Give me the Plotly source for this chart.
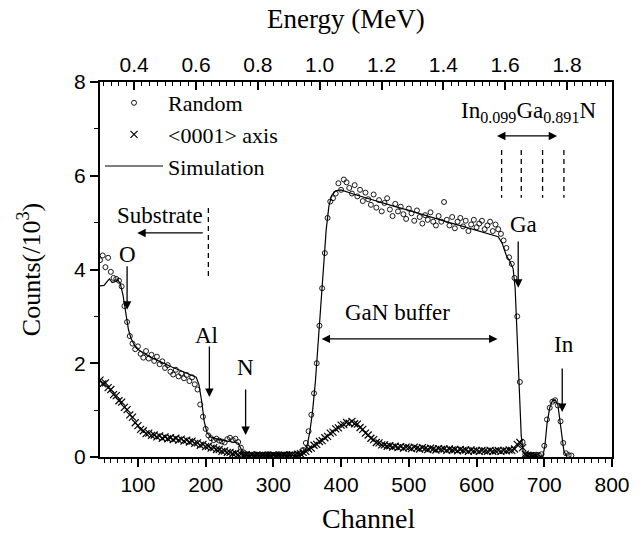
import plotly.graph_objects as go

# ---------------- data ----------------
random_channel = list(range(44, 741, 4))
random_counts = [
    4.20, 4.30, 4.05, 4.25, 3.95, 3.82, 3.80, 3.76, 3.64, 3.22,
    2.88, 2.58, 2.42, 2.30, 2.36, 2.20, 2.12, 2.26, 2.10, 2.18,
    2.05, 2.14, 1.98, 2.04, 1.90, 1.96, 1.82, 1.76, 1.86, 1.72,
    1.78, 1.68, 1.75, 1.62, 1.70, 1.55, 1.44, 1.12, 0.86, 0.60,
    0.46, 0.40, 0.36, 0.39, 0.35, 0.33, 0.31, 0.38, 0.41, 0.36,
    0.39, 0.32, 0.20, 0.10, 0.06, 0.05, 0.04, 0.06, 0.05, 0.04,
    0.05, 0.04, 0.06, 0.05, 0.04, 0.05, 0.06, 0.04, 0.05, 0.06,
    0.05, 0.04, 0.06, 0.05, 0.08, 0.15, 0.30, 0.55, 0.90, 1.36,
    2.00, 2.80, 3.60, 4.35, 5.10, 5.45, 5.52, 5.62, 5.84, 5.70,
    5.92, 5.86, 5.74, 5.62, 5.80, 5.56, 5.70, 5.46, 5.64, 5.50,
    5.38, 5.60, 5.32, 5.48, 5.24, 5.42, 5.52, 5.28, 5.14, 5.40,
    5.24, 5.34, 5.18, 5.08, 5.30, 5.20, 5.04, 5.26, 5.12, 4.98,
    5.16, 5.06, 5.22, 5.02, 4.94, 5.14, 5.02, 5.44, 5.06, 4.94,
    5.12, 4.88, 5.02, 5.10, 4.92, 5.04, 4.82, 4.96, 5.06, 4.90,
    4.98, 5.04, 4.86, 4.94, 5.02, 4.82, 4.96, 4.86, 4.76, 4.62,
    4.46, 4.26, 4.12, 3.82, 3.00, 1.60, 0.32, 0.06, 0.04, 0.05,
    0.04, 0.05, 0.04, 0.06, 0.24, 0.80, 1.05, 1.18, 1.21, 1.10,
    0.76, 0.30, 0.08, 0.04, 0.03,
]

aligned_channel = list(range(44, 689, 4))
aligned_counts = [
    1.64, 1.56, 1.58, 1.48, 1.44, 1.33, 1.31, 1.20, 1.17, 1.06,
    1.01, 0.90, 0.85, 0.73, 0.67, 0.59, 0.56, 0.50, 0.51, 0.46,
    0.47, 0.43, 0.45, 0.40, 0.43, 0.39, 0.41, 0.37, 0.40, 0.36,
    0.38, 0.34, 0.36, 0.32, 0.34, 0.29, 0.30, 0.25, 0.27, 0.22,
    0.23, 0.19, 0.20, 0.16, 0.16, 0.12, 0.13, 0.10, 0.10, 0.07,
    0.08, 0.05, 0.06, 0.04, 0.05, 0.03, 0.04, 0.03, 0.04, 0.03,
    0.04, 0.03, 0.04, 0.03, 0.04, 0.03, 0.04, 0.03, 0.04, 0.03,
    0.04, 0.05, 0.04, 0.06, 0.07, 0.10, 0.12, 0.17, 0.19, 0.25,
    0.27, 0.33, 0.35, 0.41, 0.44, 0.51, 0.53, 0.60, 0.62, 0.68,
    0.69, 0.74, 0.72, 0.76, 0.71, 0.70, 0.63, 0.59, 0.51, 0.47,
    0.40, 0.37, 0.31, 0.30, 0.26, 0.26, 0.23, 0.24, 0.21, 0.23,
    0.20, 0.22, 0.19, 0.21, 0.20, 0.18, 0.21, 0.19, 0.17, 0.20,
    0.18, 0.16, 0.19, 0.17, 0.15, 0.18, 0.16, 0.17, 0.14, 0.17,
    0.15, 0.16, 0.13, 0.16, 0.14, 0.15, 0.12, 0.15, 0.13, 0.14,
    0.12, 0.14, 0.13, 0.12, 0.14, 0.12, 0.13, 0.14, 0.12, 0.14,
    0.13, 0.15, 0.14, 0.17, 0.27, 0.31, 0.20, 0.06, 0.03, 0.03,
    0.02, 0.02,
]

sim_channel = [44, 50, 55, 58, 62, 66, 70, 74, 78, 82, 86, 90, 95, 100, 110,
               120, 130, 140, 150, 160, 170, 180, 186, 190, 194, 198, 202,
               208, 220, 235, 248, 252, 256, 262, 340, 346, 350, 354, 358,
               362, 366, 370, 374, 378, 382, 386, 392, 400, 420, 440, 460,
               480, 500, 520, 540, 560, 580, 600, 620, 632, 638, 644, 650,
               654, 657, 660, 663, 666, 669, 674, 698, 701, 704, 708, 712,
               716, 720, 723, 726, 729, 733]
sim_counts = [3.65, 3.66, 3.75, 3.80, 3.72, 3.74, 3.78, 3.70, 3.45, 3.05,
              2.72, 2.52, 2.38, 2.30, 2.20, 2.12, 2.05, 1.98, 1.92, 1.86,
              1.80, 1.75, 1.70, 1.55, 1.20, 0.75, 0.52, 0.42, 0.37, 0.33,
              0.30, 0.18, 0.06, 0.03, 0.03, 0.10, 0.25, 0.55, 1.00, 1.60,
              2.40, 3.30, 4.10, 4.85, 5.35, 5.58, 5.68, 5.70, 5.60, 5.51,
              5.43, 5.34, 5.26, 5.17, 5.09, 5.00, 4.92, 4.83, 4.75, 4.70,
              4.55, 4.30, 4.15, 4.02, 3.60, 2.60, 1.40, 0.45, 0.10, 0.02,
              0.02, 0.25, 0.70, 1.05, 1.20, 1.22, 1.12, 0.80, 0.40, 0.12,
              0.02]

channel_ticks = [100, 200, 300, 400, 500, 600, 700, 800]
energy_ticks = [0.4, 0.6, 0.8, 1.0, 1.2, 1.4, 1.6, 1.8]
count_ticks = [0, 2, 4, 6, 8]

# energy calibration of the top axis (MeV = offset + gain * channel)
E_OFFSET = 0.1930
E_GAIN = 0.0021906
CH_MIN, CH_MAX = 44, 800

SERIF = "Liberation Serif, Times New Roman, serif"
SANS = "Liberation Sans, Arial, Helvetica, sans-serif"

fig = go.Figure()

fig.add_trace(go.Scatter(
    x=random_channel, y=random_counts, mode="markers", name="Random",
    marker=dict(symbol="circle-open", size=5, color="black",
                line=dict(width=0.9, color="black")),
))
fig.add_trace(go.Scatter(
    x=aligned_channel, y=aligned_counts, mode="markers", name="<0001> axis",
    marker=dict(symbol="x-thin", size=7, color="black",
                line=dict(width=1.2, color="black")),
))
fig.add_trace(go.Scatter(
    x=sim_channel, y=sim_counts, mode="lines", name="Simulation",
    line=dict(color="black", width=1.2),
))
# helper trace so that the top energy axis is rendered
fig.add_trace(go.Scatter(
    x=[E_OFFSET + E_GAIN * CH_MIN, E_OFFSET + E_GAIN * CH_MAX], y=[0, 0],
    xaxis="x2", mode="markers", marker=dict(opacity=0), showlegend=False,
    hoverinfo="skip",
))

fig.update_layout(
    width=642, height=537,
    margin=dict(l=100, r=18, t=82, b=80),
    paper_bgcolor="white", plot_bgcolor="white",
    showlegend=True,
    legend=dict(x=0.0, y=1.0, xanchor="left", yanchor="top",
                bgcolor="rgba(0,0,0,0)", font=dict(family=SERIF, size=22, color="black"),
                itemwidth=58, tracegroupgap=0),
    xaxis=dict(
        range=[CH_MIN, CH_MAX], tickvals=channel_ticks,
        ticks="outside", ticklen=8, tickwidth=1.5, tickcolor="black",
        minor=dict(dtick=10, tick0=0, ticks="outside", ticklen=4, tickwidth=1.2, tickcolor="black"),
        showgrid=False, zeroline=False, showline=True, linewidth=2, linecolor="black",
        tickfont=dict(family=SANS, size=21, color="black"),
    ),
    xaxis2=dict(
        overlaying="x", side="top", anchor="y",
        range=[E_OFFSET + E_GAIN * CH_MIN, E_OFFSET + E_GAIN * CH_MAX],
        tickvals=energy_ticks, ticktext=[f"{v:.1f}" for v in energy_ticks],
        ticks="inside", ticklen=8, tickwidth=1.5, tickcolor="black",
        minor=dict(dtick=0.025, tick0=0, ticks="inside", ticklen=4, tickwidth=1.2, tickcolor="black"),
        showgrid=False, zeroline=False, showline=True, linewidth=2, linecolor="black",
        tickfont=dict(family=SANS, size=21, color="black"),
    ),
    yaxis=dict(
        range=[0, 8], tickvals=count_ticks,
        ticks="outside", ticklen=8, tickwidth=1.5, tickcolor="black",
        minor=dict(dtick=1, tick0=0, ticks="outside", ticklen=4, tickwidth=1.2, tickcolor="black"),
        showgrid=False, zeroline=False, showline=True, linewidth=2, linecolor="black",
        mirror=True,
        tickfont=dict(family=SANS, size=21, color="black"),
        title=dict(text="Counts(/10<sup>3</sup>)", font=dict(family=SERIF, size=26, color="black"),
                   standoff=26),
    ),
)

# axis titles placed as in the reference
fig.add_annotation(text="Channel", xref="paper", yref="paper", x=0.525, y=-0.163,
                   xanchor="center", yanchor="middle", showarrow=False,
                   font=dict(family=SERIF, size=28, color="black"))
fig.add_annotation(text="Energy (MeV)", xref="paper", yref="paper", x=0.481, y=1.168,
                   xanchor="center", yanchor="middle", showarrow=False,
                   font=dict(family=SERIF, size=27, color="black"))

TXT = dict(family=SERIF, size=23, color="black")

def label(x, y, text):
    fig.add_annotation(x=x, y=y, xref="x", yref="y", text=text, showarrow=False, font=TXT)

def arrow(x0, y0, x1, y1, both=False):
    fig.add_annotation(x=x1, y=y1, ax=x0, ay=y0, xref="x", yref="y", axref="x", ayref="y",
                       text="", showarrow=True, arrowhead=2, arrowsize=1.3, arrowwidth=1.3,
                       arrowcolor="black", standoff=0, startstandoff=0,
                       arrowside="end+start" if both else "end", startarrowhead=2,
                       startarrowsize=1.3)

def dashed(x, y0, y1):
    fig.add_shape(type="line", x0=x, x1=x, y0=y0, y1=y1, xref="x", yref="y",
                  line=dict(color="black", width=1.3, dash="5px,4px"))

# Substrate
label(132, 5.16, "Substrate")
arrow(198, 4.78, 99, 4.78)
dashed(204, 5.31, 3.84)
# element edges
label(84, 4.31, "O")
arrow(84, 4.10, 84, 3.14)
label(201, 2.60, "Al")
arrow(205.5, 2.39, 205.5, 1.28)
label(259, 1.90, "N")
arrow(259, 1.47, 259, 0.47)
label(669, 4.97, "Ga")
arrow(661.5, 4.63, 661.5, 3.61)
label(729, 2.39, "In")
arrow(726.5, 1.92, 726.5, 0.96)
# GaN buffer
label(483, 3.09, "GaN buffer")
arrow(369, 2.52, 631, 2.52, both=True)
# InGaN layer
label(677, 7.36, "In<sub>0.099</sub>Ga<sub>0.891</sub>N")
arrow(628, 6.85, 719, 6.85, both=True)
for xc in (637, 666, 697.5, 729):
    dashed(xc, 6.55, 5.53)

fig.write_html("out.html")
